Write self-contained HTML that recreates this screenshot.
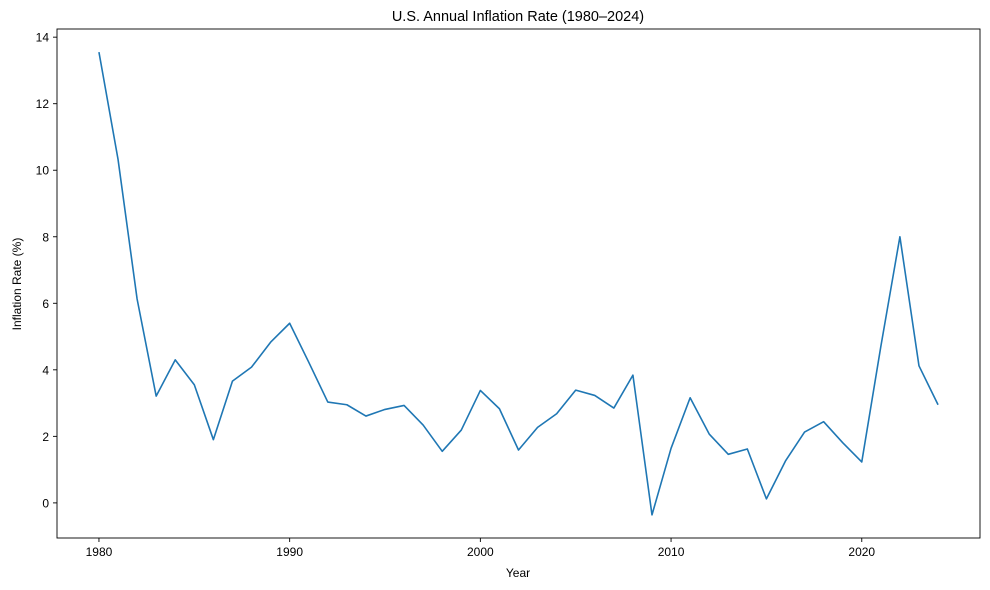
<!DOCTYPE html>
<html><head><meta charset="utf-8"><style>
body{margin:0;background:#fff}
svg{display:block;font-family:"Liberation Sans","DejaVu Sans",sans-serif}
</style></head><body>
<svg id="chart" width="990" height="590" viewBox="0 0 990 590">
<rect width="990" height="590" fill="#fff"/>
<text x="518" y="21" text-anchor="middle" font-size="14.5">U.S. Annual Inflation Rate (1980–2024)</text>
<g id="yt"></g>
<g id="xt"></g>
<path id="line" fill="none" stroke="#1f77b4" stroke-width="1.6" stroke-linejoin="round"/>
<rect x="57" y="29" width="923" height="509" fill="none" stroke="#000" stroke-width="0.9"/>
<text x="518" y="577" text-anchor="middle" font-size="12">Year</text>
<text transform="translate(21,284) rotate(-90)" text-anchor="middle" font-size="12">Inflation Rate (%)</text>
</svg>
<script>
const years=[1980,1981,1982,1983,1984,1985,1986,1987,1988,1989,1990,1991,1992,1993,1994,1995,1996,1997,1998,1999,2000,2001,2002,2003,2004,2005,2006,2007,2008,2009,2010,2011,2012,2013,2014,2015,2016,2017,2018,2019,2020,2021,2022,2023,2024];
const rates=[13.55,10.33,6.13,3.21,4.30,3.55,1.90,3.66,4.08,4.83,5.40,4.23,3.03,2.95,2.61,2.81,2.93,2.34,1.55,2.19,3.38,2.83,1.59,2.27,2.68,3.39,3.23,2.85,3.84,-0.36,1.64,3.16,2.07,1.46,1.62,0.12,1.26,2.13,2.44,1.81,1.23,4.70,8.00,4.12,2.95];
const xTicks=[1980,1990,2000,2010,2020];
const yTicks=[0,2,4,6,8,10,12,14];
const NS="http://www.w3.org/2000/svg";
const L=57,R=980,T=29,B=538;
const xmin=Math.min(...years),xmax=Math.max(...years),xm=(xmax-xmin)*0.05;
const ymin=Math.min(...rates),ymax=Math.max(...rates),ym=(ymax-ymin)*0.05;
const sx=v=>L+(v-(xmin-xm))/((xmax+xm)-(xmin-xm))*(R-L);
const sy=v=>B-(v-(ymin-ym))/((ymax+ym)-(ymin-ym))*(B-T);
const yt=document.getElementById('yt'),xt=document.getElementById('xt');
yTicks.forEach(v=>{
 const y=sy(v);
 const l=document.createElementNS(NS,'line');
 l.setAttribute('x1',L-4);l.setAttribute('x2',L);l.setAttribute('y1',y);l.setAttribute('y2',y);l.setAttribute('stroke','#000');l.setAttribute('stroke-width','0.9');
 
 
 yt.appendChild(l);
 const t=document.createElementNS(NS,'text');
 t.setAttribute('x',L-8);t.setAttribute('y',y+4.5);t.setAttribute('text-anchor','end');t.setAttribute('font-size','12');t.textContent=v;
 
 
 yt.appendChild(t);
});
xTicks.forEach(v=>{
 const x=sx(v);
 const l=document.createElementNS(NS,'line');
 l.setAttribute('x1',x);l.setAttribute('x2',x);l.setAttribute('y1',B);l.setAttribute('y2',B+4);l.setAttribute('stroke','#000');l.setAttribute('stroke-width','0.9');
 
 
 xt.appendChild(l);
 const t=document.createElementNS(NS,'text');
 t.setAttribute('x',x);t.setAttribute('y',B+18);t.setAttribute('text-anchor','middle');t.setAttribute('font-size','12');t.textContent=v;
 
 
 xt.appendChild(t);
});
document.getElementById('line').setAttribute('d',years.map((y,i)=>(i?'L':'M')+sx(y).toFixed(2)+','+sy(rates[i]).toFixed(2)).join(''));
</script>
</body></html>
